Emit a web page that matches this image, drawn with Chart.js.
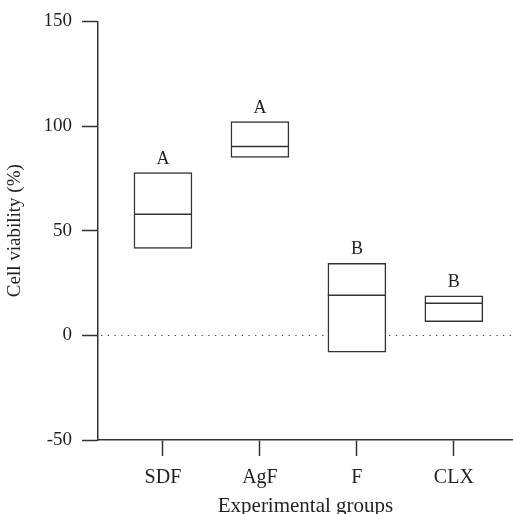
<!DOCTYPE html>
<html>
<head>
    <title>Cell viability</title>
    <script src="https://cdn.jsdelivr.net/npm/chart.js"></script>
    <style>
        html, body { margin: 0; padding: 0; background: #fff; }
        #wrap { width: 513px; height: 514px; }
    </style>
</head>
<body>
<div id="wrap"><canvas id="viability"></canvas></div>
<script>
    const groups = ['SDF', 'AgF', 'F', 'CLX'];
    const lows = [41.5, 85, -8, 6.5];
    const highs = [77.8, 102.1, 34.4, 18.9];
    const medians = [57.8, 90.2, 19.2, 15.3];
    const letters = ['A', 'A', 'B', 'B'];
    const yTicks = [-50, 0, 50, 100, 150];

    const ink = '#333';
    const text = '#231f20';
    const serif = 'Liberation Serif';

    // dotted line at 0 and the letters over each box
    const extras = {
        id: 'extras',
        beforeDatasetsDraw(chart) {
            const { ctx, chartArea, scales: { y } } = chart;
            const py = Math.round(y.getPixelForValue(0)) + 0.5;
            ctx.save();
            ctx.strokeStyle = '#444';
            ctx.lineWidth = 1.1;
            ctx.setLineDash([1.3, 5.4]);
            ctx.beginPath();
            ctx.moveTo(chartArea.left + 3, py);
            ctx.lineTo(chartArea.right, py);
            ctx.stroke();
            ctx.restore();
        },
        afterDatasetsDraw(chart) {
            const { ctx, scales: { x, y } } = chart;
            ctx.save();
            ctx.fillStyle = text;
            ctx.font = '18px "Liberation Serif"';
            ctx.textAlign = 'center';
            ctx.textBaseline = 'alphabetic';
            letters.forEach((l, i) => {
                ctx.fillText(l, x.getPixelForValue(i), y.getPixelForValue(highs[i]) - 9);
            });
            ctx.restore();
        }
    };

    new Chart(document.getElementById('viability'), {
        type: 'bar',
        data: {
            datasets: [{
                type: 'line',
                data: medians.map((m, i) => ({ x: i, y: m })),
                showLine: false,
                pointStyle: 'line',
                pointRadius: 29,
                pointHoverRadius: 29,
                borderColor: ink,
                borderWidth: 1.5
            }, {
                data: groups.map((g, i) => ({ x: i, y: [lows[i], highs[i]] })),
                backgroundColor: '#fff',
                borderColor: ink,
                borderWidth: 1.5,
                borderSkipped: false,
                barThickness: 58
            }]
        },
        options: {
            responsive: true,
            maintainAspectRatio: false,
            animation: false,
            events: [],
            layout: { autoPadding: false, padding: { top: 21, right: 0, left: 4, bottom: 0 } },
            plugins: { legend: { display: false }, tooltip: { enabled: false } },
            scales: {
                x: {
                    type: 'linear',
                    min: -0.67,
                    max: 3.61,
                    offset: false,
                    afterBuildTicks: s => { s.ticks = groups.map((g, i) => ({ value: i })); },
                    afterFit: s => { s.height = 74; s.paddingRight = 0; },
                    ticks: {
                        callback: (v) => groups[v],
                        color: text,
                        font: { family: serif, size: 20 },
                        padding: 10,
                        maxRotation: 0
                    },
                    grid: { offset: false, drawOnChartArea: false, tickLength: 16, tickColor: ink, tickWidth: 1.5 },
                    border: { color: ink, width: 1.5 },
                    title: {
                        display: true,
                        text: 'Experimental groups',
                        color: text,
                        font: { family: serif, size: 21 },
                        padding: { top: 10, bottom: -5 }
                    }
                },
                y: {
                    min: -50,
                    max: 150,
                    afterBuildTicks: s => { s.ticks = yTicks.map(v => ({ value: v })); },
                    afterFit: s => { s.width = 94; },
                    ticks: { color: text, font: { family: serif, size: 19 }, padding: 10 },
                    grid: { drawOnChartArea: false, tickLength: 16, tickColor: ink, tickWidth: 1.5 },
                    border: { color: ink, width: 1.5 },
                    title: {
                        display: true,
                        text: 'Cell viability (%)',
                        color: text,
                        font: { family: serif, size: 19 },
                        padding: { top: 0, bottom: 2 }
                    }
                }
            }
        },
        plugins: [extras]
    });
</script>
</body>
</html>
